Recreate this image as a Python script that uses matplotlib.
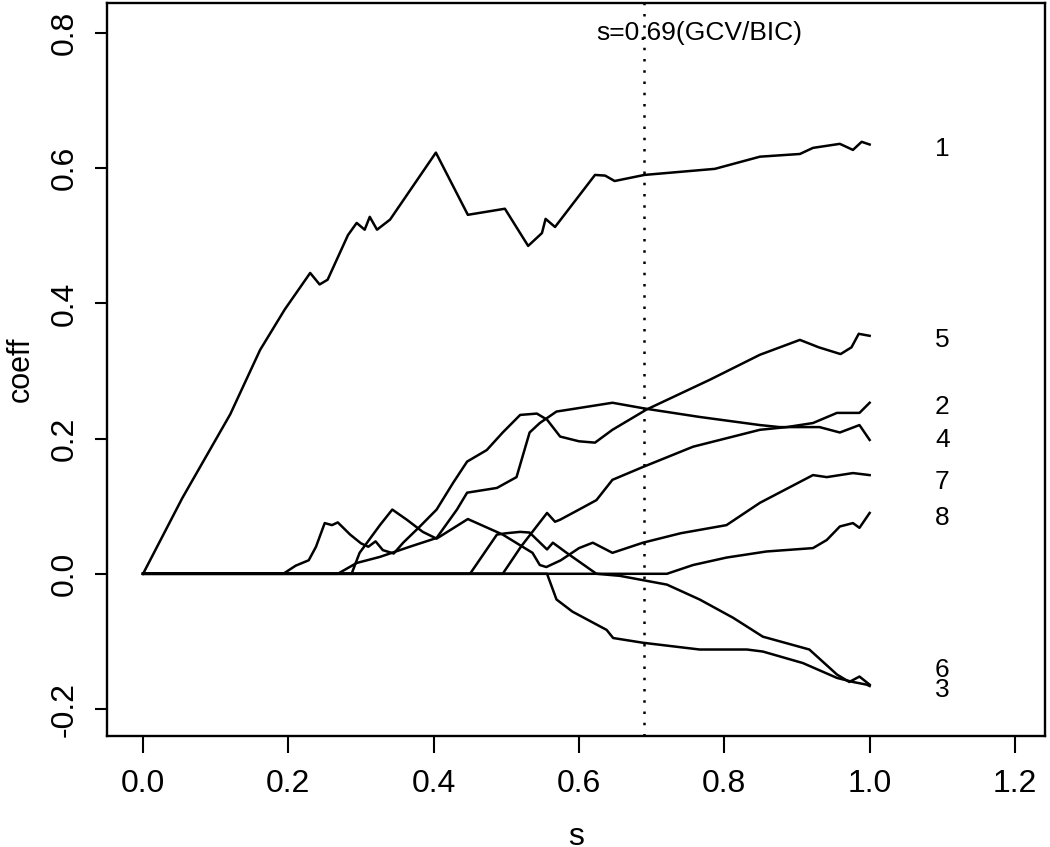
import numpy as np
import matplotlib.pyplot as plt

plt.rcParams['font.family'] = ['Liberation Sans', 'DejaVu Sans']

# coefficient paths (s, coeff)
s1 = [0, 0.054, 0.12, 0.161, 0.195, 0.23, 0.243, 0.254, 0.282, 0.294, 0.305, 0.312, 0.322, 0.34,
      0.403, 0.447, 0.498, 0.53, 0.549, 0.554, 0.567, 0.622, 0.636, 0.649, 0.69, 0.787, 0.849,
      0.904, 0.922, 0.959, 0.977, 0.989, 1.0]
c1 = [0, 0.112, 0.236, 0.331, 0.391, 0.445, 0.428, 0.435, 0.501, 0.519, 0.509, 0.528, 0.509, 0.524,
      0.623, 0.531, 0.540, 0.485, 0.504, 0.525, 0.513, 0.590, 0.589, 0.581, 0.590, 0.599, 0.617,
      0.621, 0.630, 0.636, 0.627, 0.639, 0.635]

s2 = [0, 0.495, 0.52, 0.556, 0.567, 0.574, 0.60, 0.624, 0.646, 0.688, 0.757, 0.849, 0.886,
      0.922, 0.955, 0.986, 1.0]
c2 = [0, 0, 0.04, 0.09, 0.077, 0.08, 0.095, 0.109, 0.139, 0.158, 0.188, 0.213, 0.217,
      0.223, 0.238, 0.238, 0.253]

s3 = [0, 0.556, 0.569, 0.591, 0.638, 0.647, 0.688, 0.766, 0.831, 0.853, 0.908, 0.955, 0.977, 0.996, 1.0]
c3 = [0, 0, -0.038, -0.056, -0.083, -0.095, -0.102, -0.112, -0.112, -0.115, -0.132, -0.154, -0.160,
      -0.164, -0.166]

s4 = [0, 0.268, 0.294, 0.326, 0.367, 0.404, 0.432, 0.446, 0.487, 0.514, 0.532, 0.546, 0.569, 0.587,
      0.646, 0.693, 0.766, 0.849, 0.876, 0.931, 0.959, 0.986, 1.0]
c4 = [0, 0, 0.016, 0.025, 0.04, 0.053, 0.095, 0.12, 0.127, 0.143, 0.209, 0.223, 0.24, 0.243,
      0.253, 0.244, 0.232, 0.220, 0.217, 0.217, 0.209, 0.220, 0.198]

s5 = [0, 0.193, 0.21, 0.228, 0.238, 0.25, 0.26, 0.268, 0.285, 0.30, 0.31, 0.32, 0.33, 0.345, 0.358,
      0.381, 0.404, 0.427, 0.446, 0.473, 0.495, 0.519, 0.542, 0.556, 0.574, 0.60, 0.622, 0.646,
      0.693, 0.78, 0.849, 0.904, 0.93, 0.96, 0.975, 0.985, 1.0]
c5 = [0, 0, 0.012, 0.02, 0.04, 0.075, 0.072, 0.076, 0.058, 0.045, 0.04, 0.048, 0.035, 0.03, 0.046,
      0.07, 0.095, 0.135, 0.166, 0.183, 0.209, 0.235, 0.237, 0.228, 0.203, 0.196, 0.194, 0.213,
      0.243, 0.287, 0.324, 0.346, 0.335, 0.325, 0.335, 0.355, 0.352]

s6 = [0, 0.45, 0.487, 0.50, 0.519, 0.532, 0.556, 0.564, 0.583, 0.624, 0.656, 0.721, 0.766, 0.812,
      0.853, 0.917, 0.955, 0.972, 0.986, 1.0]
c6 = [0, 0, 0.058, 0.06, 0.062, 0.061, 0.036, 0.046, 0.031, 0.0, -0.003, -0.016, -0.038, -0.065,
      -0.093, -0.112, -0.149, -0.160, -0.152, -0.164]

s7 = [0, 0.287, 0.298, 0.326, 0.343, 0.363, 0.385, 0.404, 0.447, 0.495, 0.536, 0.546, 0.555, 0.575,
      0.60, 0.619, 0.646, 0.688, 0.74, 0.803, 0.849, 0.922, 0.941, 0.977, 1.0]
c7 = [0, 0, 0.031, 0.072, 0.095, 0.080, 0.062, 0.052, 0.081, 0.058, 0.031, 0.013, 0.01, 0.02,
      0.038, 0.046, 0.031, 0.046, 0.06, 0.072, 0.105, 0.146, 0.143, 0.149, 0.146]

s8 = [0, 0.721, 0.757, 0.803, 0.858, 0.922, 0.941, 0.959, 0.977, 0.986, 1.0]
c8 = [0, 0, 0.013, 0.024, 0.033, 0.038, 0.05, 0.07, 0.075, 0.068, 0.090]

paths = [(s1, c1), (s2, c2), (s3, c3), (s4, c4), (s5, c5), (s6, c6), (s7, c7), (s8, c8)]

labels = ['1', '5', '2', '4', '7', '8', '6', '3']
label_y = [0.629, 0.346, 0.247, 0.198, 0.136, 0.083, -0.142, -0.172]

s_best = 0.69

fig = plt.figure(figsize=(10.5, 8.47), dpi=100)
ax = fig.add_axes([0.102, 0.131, 0.893, 0.866])

for s, c in paths:
    ax.plot(s, c, color='black', lw=1.8)

ax.axvline(s_best, color='black', lw=1.8, linestyle=(0, (1, 3.5)))
ax.text(0.766, 0.80, 's=0.69(GCV/BIC)', fontsize=19, ha='center', va='center')

for lab, y in zip(labels, label_y):
    ax.text(1.1, y, lab, fontsize=19, ha='center', va='center')

ax.set_xlim(-0.0495, 1.241)
ax.set_ylim(-0.24, 0.845)
ax.set_xticks([0.0, 0.2, 0.4, 0.6, 0.8, 1.0, 1.2])
ax.set_xticklabels(['0.0', '0.2', '0.4', '0.6', '0.8', '1.0', '1.2'])
ax.set_yticks([-0.2, 0.0, 0.2, 0.4, 0.6, 0.8])
ax.set_yticklabels(['-0.2', '0.0', '0.2', '0.4', '0.6', '0.8'], rotation=90, va='center')

ax.tick_params(axis='x', length=12, width=1.5, pad=12, labelsize=23)
ax.tick_params(axis='y', length=9, width=1.5, pad=11, labelsize=23)
for sp in ax.spines.values():
    sp.set_linewidth(1.7)

ax.set_xlabel('s', fontsize=23, labelpad=16)
ax.set_ylabel('coeff', fontsize=22, labelpad=10)

fig.savefig('out.png', dpi=100)
